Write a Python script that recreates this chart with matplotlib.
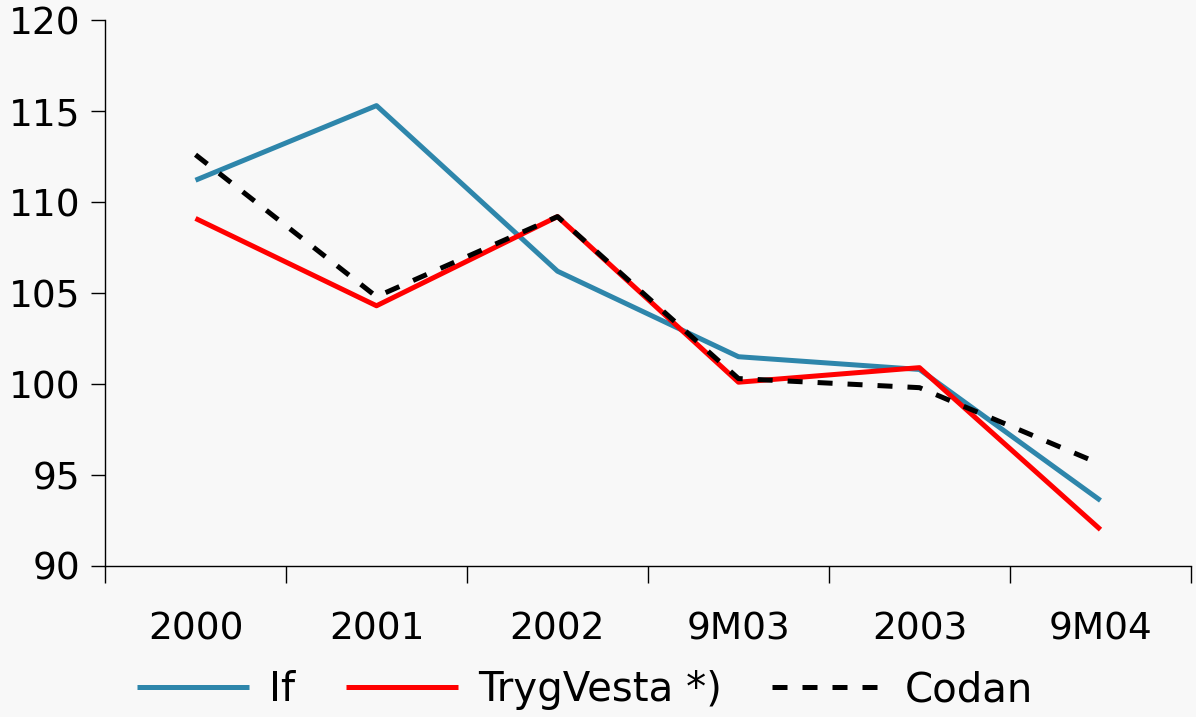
import matplotlib.pyplot as plt

categories = ["2000", "2001", "2002", "9M03", "2003", "9M04"]
if_values = [111.2, 115.3, 106.2, 101.5, 100.8, 93.6]
trygvesta_values = [109.1, 104.3, 109.2, 100.1, 100.9, 92.0]
codan_values = [112.6, 104.8, 109.2, 100.3, 99.8, 95.6]

bg = "#f8f8f8"
plt.rcParams['font.family'] = ['DejaVu Sans']

fig = plt.figure(figsize=(11.96, 7.17), dpi=100, facecolor=bg)
ax = fig.add_axes([0.0878, 0.2106, 0.908, 0.7614], facecolor=bg)

x = list(range(len(categories)))
ax.plot(x, if_values, color="#2e86ab", lw=3.6, label="If", solid_capstyle="butt")
ax.plot(x, trygvesta_values, color="#ff0000", lw=3.6, label="TrygVesta *)", solid_capstyle="butt")
ax.plot(x, codan_values, color="black", lw=3.6, ls=(0, (3, 3)), label="Codan")

ax.set_xlim(-0.5, len(categories) - 0.5)
ax.set_ylim(90, 120)
ax.set_yticks(range(90, 121, 5))
ax.set_xticks([i - 0.5 for i in range(len(categories) + 1)], minor=False)
ax.set_xticklabels([])
ax.set_xticks(x, minor=True)
ax.set_xticklabels(categories, minor=True)
ax.tick_params(axis='x', which='minor', length=0, pad=33, labelsize=27)
ax.tick_params(axis='x', which='major', length=12, width=1)
ax.tick_params(axis='y', length=10, width=1, labelsize=27, pad=8)

for s in ["top", "right"]:
    ax.spines[s].set_visible(False)
for s in ["left", "bottom"]:
    ax.spines[s].set_linewidth(1)

ax.legend(loc="center", bbox_to_anchor=(0.442, -0.228), ncol=3, frameon=False,
          fontsize=29, handlelength=2.78, columnspacing=1.25, handletextpad=0.5)

fig.savefig("out.png", dpi=100, facecolor=bg)
